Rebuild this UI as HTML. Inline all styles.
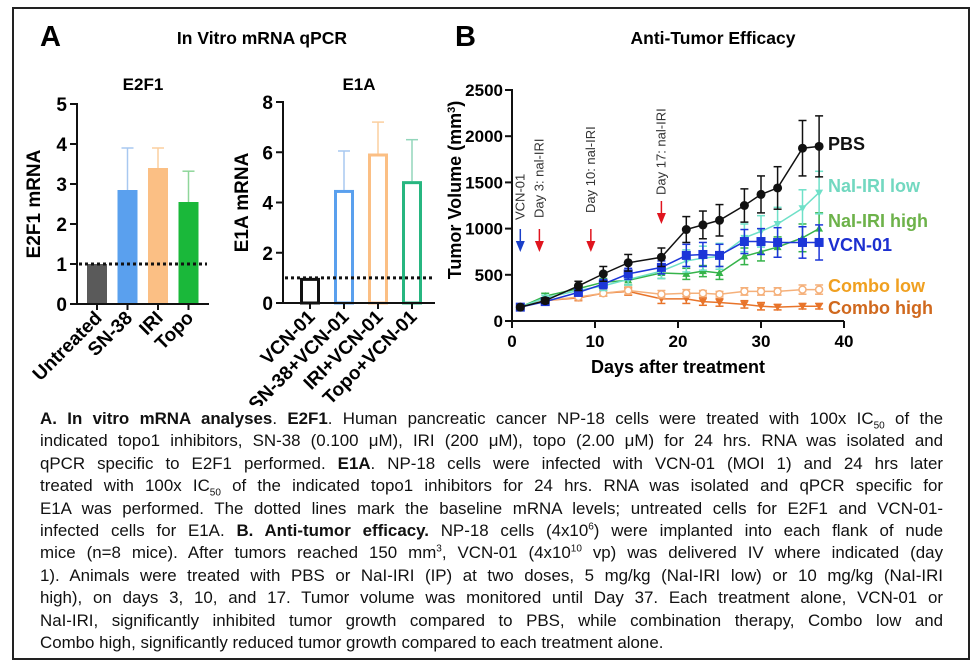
<!DOCTYPE html>
<html><head><meta charset="utf-8"><style>
body{margin:0;background:#fff;width:978px;height:664px;overflow:hidden;font-family:"Liberation Sans",Arial,sans-serif}
#frame{position:absolute;left:12px;top:7px;width:958px;height:653px;border:2px solid #222;box-sizing:border-box}
#caption{position:absolute;left:40px;top:408px;width:903px;font-size:16.9px;line-height:22.4px;color:#111}
#caption div{text-align:justify;text-align-last:justify;white-space:nowrap}
#caption div.last{text-align-last:left}
sub,sup{font-size:10px;line-height:0}
svg{position:absolute;left:0;top:0}
</style></head><body>
<div id="frame"></div>
<svg id="chart" width="978" height="406"></svg>
<div id="caption">
<div><b>A. In vitro mRNA analyses</b>. <b>E2F1</b>. Human pancreatic cancer NP-18 cells were treated with 100x IC<sub>50</sub> of the</div>
<div>indicated topo1 inhibitors, SN-38 (0.100 μM), IRI (200 μM), topo (2.00 μM) for 24 hrs. RNA was isolated and</div>
<div>qPCR specific to E2F1 performed. <b>E1A</b>. NP-18 cells were infected with VCN-01 (MOI 1) and 24 hrs later</div>
<div>treated with 100x IC<sub>50</sub> of the indicated topo1 inhibitors for 24 hrs. RNA was isolated and qPCR specific for</div>
<div>E1A was performed. The dotted lines mark the baseline mRNA levels; untreated cells for E2F1 and VCN-01-</div>
<div>infected cells for E1A. <b>B. Anti-tumor efficacy.</b> NP-18 cells (4x10<sup>6</sup>) were implanted into each flank of nude</div>
<div>mice (n=8 mice). After tumors reached 150 mm<sup>3</sup>, VCN-01 (4x10<sup>10</sup> vp) was delivered IV where indicated (day</div>
<div>1). Animals were treated with PBS or NaI-IRI (IP) at two doses, 5 mg/kg (NaI-IRI low) or 10 mg/kg (NaI-IRI</div>
<div>high), on days 3, 10, and 17. Tumor volume was monitored until Day 37. Each treatment alone, VCN-01 or</div>
<div>NaI-IRI, significantly inhibited tumor growth compared to PBS, while combination therapy, Combo low and</div>
<div class="last">Combo high, significantly reduced tumor growth compared to each treatment alone.</div>
</div>
<script>
// ---- data ----
const e2f1Cats=["Untreated","SN-38","IRI","Topo"];
const e2f1Vals=[1,2.85,3.4,2.55];
const e2f1Err=[1,3.9,3.9,3.32];
const e2f1Ticks=[0,1,2,3,4,5];
const e1aCats=["VCN-01","SN-38+VCN-01","IRI+VCN-01","Topo+VCN-01"];
const e1aVals=[1,4.5,5.95,4.85];
const e1aErr=[1,6.05,7.2,6.5];
const e1aTicks=[0,2,4,6,8];
const days=[1,4,8,11,14,18,21,23,25,28,30,32,35,37];
const pbs=[150,220,380,510,630,690,990,1040,1090,1250,1370,1440,1870,1890];
const pbsErr=[20,30,50,80,90,100,140,150,170,180,200,230,300,330];
const nalLow=[150,250,330,380,450,540,650,680,700,900,970,1050,1220,1390];
const nalLowErr=[20,30,40,50,60,80,120,130,140,150,170,180,200,230];
const nalHigh=[150,270,350,420,440,520,510,540,520,700,750,800,900,1000];
const nalHighErr=[20,30,40,40,50,60,60,60,70,90,100,110,150,170];
const vcn=[150,210,310,400,510,580,710,720,710,860,860,850,850,850];
const vcnErr=[20,20,40,50,60,70,120,130,120,130,140,160,170,190];
const comboLow=[150,220,260,300,330,290,300,300,290,320,320,320,340,340];
const comboLowErr=[15,20,30,30,40,40,40,30,30,40,40,40,50,50];
const comboHigh=[150,220,250,300,320,240,240,210,200,180,160,150,160,160];
const comboHighErr=[15,20,30,30,40,50,50,40,40,40,40,30,30,30];
const bxTicks=[0,10,20,30,40];
const byTicks=[0,500,1000,1500,2000,2500];

const svg=document.getElementById('chart');
const NS='http://www.w3.org/2000/svg';
function mk(tag,attrs,parent){const e=document.createElementNS(NS,tag);for(const k in attrs)e.setAttribute(k,attrs[k]);(parent||svg).appendChild(e);return e;}
function txt(s,x,y,attrs){const t=mk('text',Object.assign({x:x,y:y,'font-family':'Liberation Sans, Arial, sans-serif'},attrs||{}));t.textContent=s;return t;}

let t;
t=txt('A',40,46,{'font-size':29,'font-weight':'bold'});
t=txt('In Vitro mRNA qPCR',262,44,{'font-size':17.5,'font-weight':'bold','text-anchor':'middle'});
t=txt('B',455,46,{'font-size':29,'font-weight':'bold'});
t=txt('Anti-Tumor Efficacy',713,44,{'font-size':17.5,'font-weight':'bold','text-anchor':'middle'});

function barChart(o){
  const g=mk('g',{});
  
  
  const y=v=>o.y0-(v/o.ymax)*(o.y0-o.y1);
  const bw=20;
  o.cats.forEach((c,i)=>{
    const cx=o.centers[0]+i*o.step;
    const col=o.colors[i];
    const eb=mk('g',{},g);
    
    
    if(o.err[i]>o.vals[i]){
      mk('line',{x1:cx,x2:cx,y1:y(o.vals[i]),y2:y(o.err[i]),stroke:o.errColors[i],'stroke-width':1.5},eb);
      mk('line',{x1:cx-6,x2:cx+6,y1:y(o.err[i]),y2:y(o.err[i]),stroke:o.errColors[i],'stroke-width':1.5},eb);
    }
    let r;
    if(o.hollow){
      r=mk('rect',{x:cx-bw/2+1.5,y:y(o.vals[i])+1.5,width:bw-3,height:y(0)-y(o.vals[i])-1.5,fill:'none',stroke:col,'stroke-width':3},g);
    } else {
      r=mk('rect',{x:cx-bw/2,y:y(o.vals[i]),width:bw,height:y(0)-y(o.vals[i]),fill:col},g);
    }
    
    
    mk('line',{x1:cx,x2:cx,y1:o.y0,y2:o.y0+6,stroke:'#111','stroke-width':2},g);
    const l=txt(c,cx+6,o.y0+15,{'font-size':19,'font-weight':'bold','text-anchor':'end',transform:`rotate(-45 ${cx+6} ${o.y0+15})`});
    
    
    g.appendChild(l);
  });
  mk('line',{x1:o.ax,x2:o.ax,y1:y(o.ymax)-1,y2:o.y0+1,stroke:'#111','stroke-width':2},g);
  mk('line',{x1:o.ax,x2:o.axEnd,y1:o.y0,y2:o.y0,stroke:'#111','stroke-width':2},g);
  o.ticks.forEach(v=>{
    mk('line',{x1:o.ax-7,x2:o.ax,y1:y(v),y2:y(v),stroke:'#111','stroke-width':2},g);
    const l=txt(String(v),o.ax-10,y(v)+7,{'font-size':19,'font-weight':'bold','text-anchor':'end'});
    
    
    g.appendChild(l);
  });
  const d=mk('line',{x1:o.ax+2,x2:o.axEnd-2,y1:y(1),y2:y(1),stroke:'#111','stroke-width':3,'stroke-dasharray':'3 3'},g);
  
  
  const yl=txt(o.ylabel,o.ylx,(o.y0+o.y1)/2,{'font-size':19,'font-weight':'bold','text-anchor':'middle',transform:`rotate(-90 ${o.ylx} ${(o.y0+o.y1)/2})`});
  
  
  g.appendChild(yl);
  const st=txt(o.title,(o.ax+o.axEnd)/2,90,{'font-size':17,'font-weight':'bold','text-anchor':'middle'});
  
  
  g.appendChild(st);
}
barChart({name:'e2f1-chart',cats:e2f1Cats,vals:e2f1Vals,err:e2f1Err,ticks:e2f1Ticks,ymax:5,y0:304,y1:104,ax:77,axEnd:209,centers:[97],step:30.5,
  colors:['#5a5a5a','#5aa0ee','#fbbf84','#1ab83a'],errColors:['#5a5a5a','#a8c8f0','#fbcf9f','#8fd69a'],hollow:false,ylabel:'E2F1 mRNA',ylx:40,title:'E2F1'});
barChart({name:'e1a-chart',cats:e1aCats,vals:e1aVals,err:e1aErr,ticks:e1aTicks,ymax:8,y0:303,y1:102,ax:283,axEnd:435,centers:[310],step:34,
  colors:['#111','#5aa0ee','#fbbf84','#27b680'],errColors:['#111','#a8c8f0','#fbcf9f','#93d6bb'],hollow:true,ylabel:'E1A mRNA',ylx:248,title:'E1A'});

// ---- panel B ----
const bx0=512,bx1=844,by0=321,by1=90;
const X=d=>bx0+d/40*(bx1-bx0);
const Y=v=>by0-v/2500*(by0-by1);
const gB=mk('g',{});


mk('line',{x1:bx0,x2:bx0,y1:by1-1,y2:by0+1,stroke:'#111','stroke-width':2},gB);
mk('line',{x1:bx0,x2:bx1,y1:by0,y2:by0,stroke:'#111','stroke-width':2},gB);
byTicks.forEach(v=>{
  mk('line',{x1:bx0-7,x2:bx0,y1:Y(v),y2:Y(v),stroke:'#111','stroke-width':2},gB);
  const l=txt(String(v),bx0-9,Y(v)+6,{'font-size':17,'font-weight':'bold','text-anchor':'end'});
  
  
  gB.appendChild(l);
});
bxTicks.forEach(v=>{
  mk('line',{x1:X(v),x2:X(v),y1:by0,y2:by0+7,stroke:'#111','stroke-width':2},gB);
  const l=txt(String(v),X(v),by0+26,{'font-size':17,'font-weight':'bold','text-anchor':'middle'});
  
  
  gB.appendChild(l);
});
t=txt('Days after treatment',678,373,{'font-size':18,'font-weight':'bold','text-anchor':'middle'});

t=mk('text',{x:0,y:0,'font-size':18,'font-weight':'bold','text-anchor':'middle','font-family':'Liberation Sans, Arial, sans-serif',transform:'translate(461 190) rotate(-90)'});
t.innerHTML='Tumor Volume (mm<tspan dy="-6" font-size="11">3</tspan><tspan dy="6">)</tspan>';


const arrowDays=[1,3.3,9.5,18];
const arrowLabels=['VCN-01','Day 3: nal-IRI','Day 10: nal-IRI','Day 17: nal-IRI'];
const arrowTops=[229,229,229,201];
const labelBottoms=[220,218,213,195];
arrowDays.forEach((d,i)=>{
  const col=i===0?'#1a3fc8':'#e0141e';
  const x=X(d);
  const a=mk('g',{},gB);
  
  
  mk('line',{x1:x,x2:x,y1:arrowTops[i],y2:arrowTops[i]+16,stroke:col,'stroke-width':1.5},a);
  mk('polygon',{points:`${x-4.5},${arrowTops[i]+12} ${x+4.5},${arrowTops[i]+12} ${x},${arrowTops[i]+23}`,fill:col},a);
  const l=txt(arrowLabels[i],0,0,{'font-size':13,fill:'#333',transform:`translate(${x+4} ${labelBottoms[i]}) rotate(-90)`});
  
  
  a.appendChild(l);
});

function series(name,vals,err,col,marker,label,ly,lcol){
  const g=mk('g',{},gB);
  
  
  days.forEach((d,i)=>{
    const x=X(d);
    mk('line',{x1:x,x2:x,y1:Y(vals[i]-err[i]),y2:Y(vals[i]+err[i]),stroke:col,'stroke-width':1.5},g);
    mk('line',{x1:x-4,x2:x+4,y1:Y(vals[i]+err[i]),y2:Y(vals[i]+err[i]),stroke:col,'stroke-width':1.5},g);
    mk('line',{x1:x-4,x2:x+4,y1:Y(vals[i]-err[i]),y2:Y(vals[i]-err[i]),stroke:col,'stroke-width':1.5},g);
  });
  mk('polyline',{points:days.map((d,i)=>X(d)+','+Y(vals[i])).join(' '),fill:'none',stroke:col,'stroke-width':1.5},g);
  days.forEach((d,i)=>{
    const x=X(d),y=Y(vals[i]);
    let m;
    if(marker==='circle') m=mk('circle',{cx:x,cy:y,r:4.5,fill:col},g);
    else if(marker==='hollow') m=mk('circle',{cx:x,cy:y,r:3.5,fill:'#fff',stroke:col,'stroke-width':1.5},g);
    else if(marker==='square') m=mk('rect',{x:x-4.5,y:y-4.5,width:9,height:9,fill:col},g);
    else if(marker==='tri') m=mk('polygon',{points:`${x-4},${y-3} ${x+4},${y-3} ${x},${y+4}`,fill:col},g);
    else m=mk('polygon',{points:`${x},${y-4} ${x+4},${y+3} ${x-4},${y+3}`,fill:col},g);
    
    
  });
  const l=txt(label,828,ly,{'font-size':18,'font-weight':'bold',fill:lcol});
  
  
  g.appendChild(l);
}
series('combo-high',comboHigh,comboHighErr,'#e8742a','tri','Combo high',314,'#d0691e');
series('combo-low',comboLow,comboLowErr,'#f5b07a','hollow','Combo low',292,'#f0a020');
series('nal-iri-high',nalHigh,nalHighErr,'#35b34a','up','NaI-IRI high',227,'#6db24a');
series('nal-iri-low',nalLow,nalLowErr,'#6fe0c8','tri','NaI-IRI low',192,'#72d8c0');
series('vcn-01',vcn,vcnErr,'#1c36d8','square','VCN-01',251,'#1c2fd0');
series('pbs',pbs,pbsErr,'#111','circle','PBS',150,'#111');
</script>
</body></html>
